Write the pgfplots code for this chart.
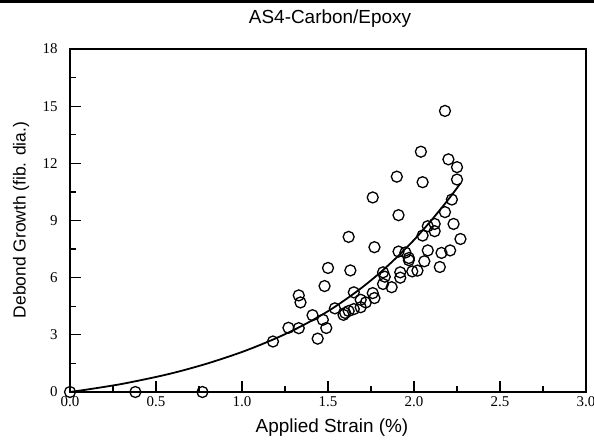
\documentclass[border=0pt]{standalone}
\usepackage{pgfplots}
\pgfplotsset{compat=1.18}
\usepackage{fontspec}
\setmainfont{Liberation Serif}
\newfontfamily\arial{Liberation Sans}
\begin{document}
\begin{tikzpicture}[x=1bp,y=1bp]
\useasboundingbox (0,0) rectangle (594,-441);
\draw[line width=3bp] (0,-1.5) -- (594,-1.5);
\begin{axis}[
  at={(70bp,-392bp)}, anchor=south west,
  width=516bp, height=343bp, scale only axis,
  xmin=0, xmax=3, ymin=0, ymax=18,
  xtick={0,0.5,...,3}, ytick={0,3,...,18},
  minor xtick={0.25,0.75,...,2.75}, minor ytick={1.5,4.5,...,16.5},
  xticklabel style={yshift=-1bp, /pgf/number format/.cd,fixed,fixed zerofill,precision=1},
  yticklabel style={xshift=-9bp, /pgf/number format/fixed},
  /pgf/number format/assume math mode=true,
  tick label style={font=\fontsize{15}{15}\selectfont},
  xtick pos=left, ytick pos=left, tick align=inside,
  major tick length=11bp, minor tick length=6bp,
  every tick/.style={black, line width=1.2bp},
  axis line style={line width=1.6bp},
  clip=false,
]
\addplot[only marks, mark=o, mark size=5.5bp, mark options={line width=1.3bp, black}] coordinates {
(0,0) (0.38,0) (0.77,0)
(1.18,2.65) (1.27,3.37) (1.33,3.35) (1.33,5.07) (1.34,4.70) (1.41,4.03)
(1.44,2.80) (1.47,3.79) (1.49,3.36) (1.48,5.56) (1.50,6.51) (1.54,4.39)
(1.62,8.14) (1.63,6.38) (1.65,5.23) (1.59,4.05) (1.60,4.15) (1.62,4.25)
(1.65,4.35) (1.69,4.45) (1.69,4.84) (1.72,4.70) (1.76,5.19) (1.77,4.93)
(1.76,10.21) (1.77,7.60) (1.82,6.28) (1.83,6.05) (1.82,5.67) (1.87,5.50)
(1.90,11.30) (1.91,9.28) (1.91,7.37) (1.95,7.32) (1.92,6.28) (1.92,6.00)
(1.97,7.03) (1.97,6.92) (1.99,6.33) (2.02,6.37) (2.06,6.86) (2.05,8.21)
(2.08,7.43) (2.08,8.70) (2.12,8.82) (2.12,8.44) (2.15,6.56) (2.16,7.30)
(2.18,9.44) (2.21,7.43) (2.23,8.82) (2.27,8.03) (2.22,10.10) (2.25,11.15)
(2.25,11.80) (2.20,12.21) (2.18,14.75) (2.04,12.61) (2.05,11.01)
};
\addplot[smooth, line width=1.8bp, black] coordinates {
(0,0) (0.1,0.13) (0.2,0.27) (0.3,0.42) (0.4,0.60) (0.5,0.79) (0.6,1.00)
(0.7,1.24) (0.8,1.50) (0.9,1.79) (1.0,2.10) (1.1,2.45) (1.2,2.83)
(1.3,3.25) (1.4,3.72) (1.5,4.24) (1.6,4.84) (1.7,5.50) (1.8,6.24)
(1.9,7.07) (2.0,7.98) (2.1,9.00) (2.2,10.11) (2.27,10.95)
};
\end{axis}
\node[font=\arial\fontsize{19}{19}\selectfont] at (330,-19) {AS4-Carbon/Epoxy};
\node[font=\arial\fontsize{19}{19}\selectfont] at (332,-428) {Applied Strain (\%)};
\node[font=\arial\fontsize{17.5}{17.5}\selectfont, rotate=90] at (21,-220) {Debond Growth (fib. dia.)};
\end{tikzpicture}
\end{document}
